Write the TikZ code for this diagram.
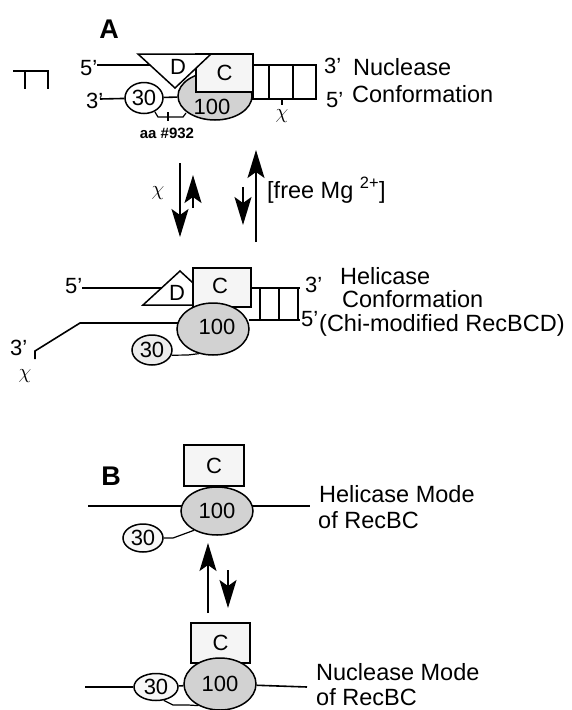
\documentclass[tikz,border=0pt]{standalone}
\usepackage{fontspec}
\setmainfont{Liberation Sans}
\usetikzlibrary{arrows.meta, positioning, shapes.geometric}

\tikzset{
    strand/.style={line width=1.6pt},
    fine/.style={line width=1.2pt},
    subunit/.style={draw, ellipse, line width=1.5pt, inner sep=0pt, font=\fontsize{22}{22}\selectfont},
    bigunit/.style={subunit, fill=gray!35},
    cbox/.style={draw, rectangle, line width=1.5pt, fill=gray!8, inner sep=0pt, font=\fontsize{22}{22}\selectfont},
    dshape/.style={draw, line width=1.5pt, fill=white},
    endtext/.style={anchor=base west, inner sep=0pt, font=\fontsize{22}{22}\selectfont},
    desc/.style={anchor=base west, inner sep=0pt, font=\fontsize{23.5}{26}\selectfont},
    panel/.style={anchor=base, inner sep=0pt, font=\fontsize{27}{27}\selectfont\bfseries},
    eqarrow/.style={-{Stealth[length=28pt, width=17pt, inset=6pt]}, line width=1.5pt},
}

\begin{document}
\begin{tikzpicture}[x=1pt, y=-1pt]
    \useasboundingbox (0,0) rectangle (572,710);

    % Panel A
    \node[panel] (lblA) at (109,38) {A};
    \draw[strand] (13,71) -- (49,71) (25,71) -- (25,89) (48,71) -- (48,89);

    % Nuclease conformation
    \node[endtext] (nuc5) at (80,75) {5'};
    \node[endtext] (nuc3) at (86,108) {3'};
    \coordinate (nuc5e) at (97,65);
    \coordinate (nuc3e) at (100,99);
    \coordinate (nucDl) at (150,65);
    \draw[strand] (nuc5e) -- (nucDl);
    \draw[strand] (253,65) -- (317,65);
    \draw[strand] (248,99) -- (317,99);
    \foreach \x in {253,269,293,316} {
        \draw[strand] (\x,65) -- (\x,99);
    }
    \node[bigunit, minimum width=74pt, minimum height=48pt] (nucB) at (215,96) {};
    \node[cbox, minimum width=57pt, minimum height=38pt] (nucC) at (224.5,73) {C};
    \draw[dshape] (138,54) -- (211,54) -- (175,88) -- cycle;
    \node[font=\fontsize{22}{22}\selectfont] (nucD) at (178,67) {D};
    \node[font=\fontsize{22}{22}\selectfont] (nucBt) at (212,107) {100};
    \node[subunit, fill=white, minimum width=38pt, minimum height=31pt] (nucB30) at (144,98) {30};
    \draw[strand] (nuc3e) -- (nucB30);
    \draw[strand] (nucB30) -- (nucB);
    \draw[fine] (155,112) -- (158,117) -- (183,117) -- (186,113);
    \draw[fine] (168,112) -- (168,121);
    \node[anchor=base, inner sep=0pt, font=\fontsize{15}{15}\selectfont\bfseries] (aa) at (167,138) {aa \#932};
    \draw[fine] (282,99) -- (282,105);
    \node[font=\fontsize{22}{22}\selectfont] (nucchi) at (282,116) {$\chi$};
    \node[endtext] (nucr3) at (324,73) {3'};
    \node[endtext] (nucr5) at (326,107) {5'};
    \node[desc] (nuct1) at (353,75) {Nuclease};
    \node[desc] (nuct2) at (352,102) {Conformation};

    % Arrows
    \node[font=\fontsize{22}{22}\selectfont] (chiarr) at (158,193) {$\chi$};
    \coordinate (a1t) at (180,163);
    \coordinate (a1b) at (180,237);
    \coordinate (a2b) at (193,208);
    \coordinate (a2t) at (193,175);
    \coordinate (a3t) at (243,187);
    \coordinate (a3b) at (243,225);
    \coordinate (a4b) at (256,242);
    \coordinate (a4t) at (256,150);
    \draw[eqarrow] (a1t) -- (a1b);
    \draw[eqarrow] (a2b) -- (a2t);
    \draw[eqarrow] (a3t) -- (a3b);
    \draw[eqarrow] (a4b) -- (a4t);
    \node[desc] (mg) at (267,198) {[free Mg \textsuperscript{2+}]};

    % Helicase conformation
    \node[endtext] (hel5) at (65,293) {5'};
    \coordinate (hel5e) at (82,288);
    \coordinate (helDl) at (161,288);
    \draw[strand] (hel5e) -- (helDl);
    \draw[strand] (251,288) -- (300,288);
    \draw[strand] (249,320) -- (300,320);
    \foreach \x in {260,279,298} {
        \draw[strand] (\x,288) -- (\x,320);
    }
    \draw[dshape] (143,305) -- (180,271) -- (217,305) -- cycle;
    \node[font=\fontsize{22}{22}\selectfont] (helD) at (177,293) {D};
    \node[cbox, minimum width=58pt, minimum height=39pt] (helC) at (222,287.5) {};
    \node[font=\fontsize{22}{22}\selectfont] (helCt) at (220,286) {C};
    \coordinate (helk) at (80,323);
    \coordinate (hel3e) at (35,351);
    \draw[strand] (190,323) -- (helk) -- (hel3e) -- ++(0,8);
    \node[bigunit, minimum width=72pt, minimum height=52pt] (helB) at (213,329) {};
    \node[font=\fontsize{22}{22}\selectfont] (helBt) at (217,327) {100};
    \node[subunit, fill=gray!15, minimum width=40pt, minimum height=30pt] (helB30) at (152,350) {30};
    \draw[fine] (helB30.-15) -- (188,355) -- (helB.-120);
    \node[endtext] (hel3) at (10,355) {3'};
    \node[font=\fontsize{22}{22}\selectfont] (helchi) at (25,376) {$\chi$};
    \node[endtext] (helr3) at (305,292) {3'};
    \node[endtext] (helr5) at (301,326) {5'};
    \node[desc] (helt1) at (340,284) {Helicase};
    \node[desc] (helt2) at (342,307) {Conformation};
    \node[desc] (helt3) at (319,331) {(Chi-modified RecBCD)};

    % Panel B
    \node[panel] (lblB) at (111,485) {B};

    % Helicase mode
    \coordinate (b1l) at (88,506);
    \coordinate (b1r) at (310,506);
    \draw[strand] (b1l) -- (b1r);
    \node[cbox, minimum width=60pt, minimum height=41pt] (bC1) at (214,465.5) {C};
    \node[bigunit, minimum width=72pt, minimum height=48pt] (bB1) at (217,511) {100};
    \node[subunit, fill=gray!6, minimum width=40pt, minimum height=28pt] (bB1s) at (143,538) {30};
    \draw[fine] (bB1s.east) -- (173,538) -- (bB1.-140);
    \node[desc] (bt1) at (319,502) {Helicase Mode};
    \node[desc] (bt2) at (318,528) {of RecBC};

    % Arrows
    \coordinate (b1b) at (208,613);
    \coordinate (b1t) at (208,543);
    \coordinate (b2t) at (228,570);
    \coordinate (b2b) at (228,608);
    \draw[eqarrow] (b1b) -- (b1t);
    \draw[eqarrow] (b2t) -- (b2b);

    % Nuclease mode
    \coordinate (b2l) at (85,687);
    \coordinate (b2r) at (307,687);
    \node[cbox, minimum width=59pt, minimum height=40pt] (bC2) at (220.5,643) {C};
    \node[bigunit, minimum width=72pt, minimum height=52pt] (bB2) at (220,684) {100};
    \node[subunit, fill=gray!6, minimum width=44pt, minimum height=27pt] (bB2s) at (156,687) {30};
    \draw[strand] (b2l) -- (bB2s);
    \draw[strand] (bB2s) -- (bB2);
    \draw[strand] (bB2) -- (b2r);
    \draw[fine] (bB2s.-60) -- (173,705) -- (188,705) -- (bB2.-135);
    \node[desc] (bt3) at (316,680) {Nuclease Mode};
    \node[desc] (bt4) at (316,705) {of RecBC};
\end{tikzpicture}
\end{document}
